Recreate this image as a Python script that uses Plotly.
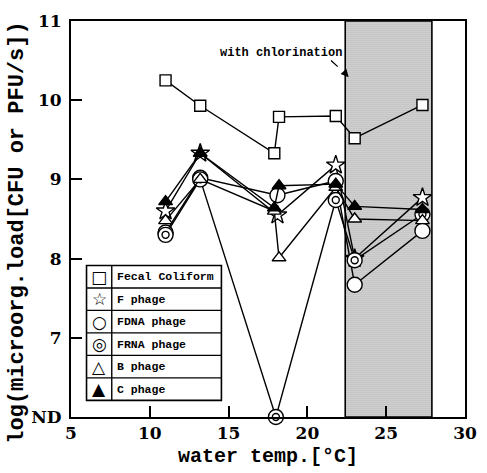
import plotly.graph_objects as go

# ---------------- data ----------------
ND = 6.0  # "not detected" plotted on the bottom axis line

fc_x = [11.0, 13.2, 17.9, 18.2, 21.8, 23.0, 27.3]
fc_y = [10.25, 9.93, 9.33, 9.79, 9.80, 9.52, 9.94]

f_x = [11.0, 13.2, 18.1, 21.8, 23.0, 27.3]
f_y = [8.60, 9.33, 8.55, 9.18, 8.00, 8.77]

fdna_x = [11.0, 13.2, 18.1, 21.8, 23.0, 27.3]
fdna_y = [8.33, 9.02, 8.80, 8.98, 7.67, 8.35]

frna_x = [11.0, 13.2, 18.0, 21.8, 23.0, 27.3]
frna_y = [8.30, 9.00, ND, 8.74, 7.98, 8.56]

b_x = [11.0, 13.2, 17.9, 18.2, 21.8, 23.0, 27.3]
b_y = [8.48, 9.00, 8.60, 8.01, 8.90, 8.50, 8.48]

c_x = [11.0, 13.2, 17.9, 18.2, 21.8, 23.0, 27.3]
c_y = [8.72, 9.33, 8.64, 8.92, 8.94, 8.66, 8.62]

chlor_start, chlor_end = 22.4, 27.9

x_ticks = [5, 10, 15, 20, 25, 30]
x_ticktext = ["5", "10", "15", "20", "25", "30"]
y_ticks = [6, 7, 8, 9, 10, 11]
y_ticktext = ["ND", "7", "8", "9", "10", "11"]

legend_names = ["Fecal Coliform", "F phage", "FDNA phage", "FRNA phage", "B phage", "C phage"]
legend_glyphs = ["□", "☆", "○", "◎", "△", "▲"]

# ---------------- figure ----------------
W, H = 487, 473
ML, MR, MT, MB = 71, 10, 21, 47
PW, PH = W - ML - MR, H - MT - MB

fig = go.Figure()

# chlorination period (shaded)
fig.add_trace(go.Scatter(
    x=[chlor_start, chlor_end, chlor_end, chlor_start, chlor_start],
    y=[y_ticks[0], y_ticks[0], y_ticks[-1], y_ticks[-1], y_ticks[0]],
    mode="lines", fill="toself", fillcolor="rgba(0,0,0,0)",
    fillpattern=dict(shape=".", size=2, solidity=0.55, fgcolor="#444", bgcolor="#f6f6f6"),
    line=dict(color="black", width=1.6), showlegend=False, hoverinfo="skip"))

LW = 1.4
def series(x, y, symbol, size, fill="white", name=None):
    fig.add_trace(go.Scatter(
        x=x, y=y, mode="lines+markers", name=name, showlegend=False,
        line=dict(color="black", width=LW),
        marker=dict(symbol=symbol, size=size, color=fill, line=dict(color="black", width=1.4)),
        cliponaxis=False))

series(fc_x, fc_y, "square", 11, name="Fecal Coliform")
series(f_x, f_y, "star", 14, name="F phage")
series(fdna_x, fdna_y, "circle", 15, name="FDNA phage")
series(frna_x, frna_y, "circle", 15, name="FRNA phage")
fig.add_trace(go.Scatter(
    x=frna_x, y=frna_y, mode="markers", showlegend=False, cliponaxis=False,
    marker=dict(symbol="circle", size=7, color="white", line=dict(color="black", width=1.4))))
series(b_x, b_y, "triangle-up", 12, name="B phage")
series(c_x, c_y, "triangle-up", 12, fill="black", name="C phage")

# ---------------- hand-drawn boxed legend ----------------
def px2paper(px, py):
    return (px - ML) / PW, (MT + PH - py) / PH

lx0, lx1, ldiv = 87, 226, 113
ly0, row_h = 271, 23
nrows = len(legend_names)
shapes = []
a, b = px2paper(lx0, ly0)
c, d = px2paper(lx1, ly0 + row_h * nrows)
shapes.append(dict(type="rect", xref="paper", yref="paper", x0=a, x1=c, y0=d, y1=b,
                   line=dict(color="black", width=1.6), fillcolor="white", layer="above"))
dv, _ = px2paper(ldiv, ly0)
shapes.append(dict(type="line", xref="paper", yref="paper", x0=dv, x1=dv, y0=d, y1=b,
                   line=dict(color="black", width=1.4), layer="above"))
annotations = []
for i in range(nrows):
    if i > 0:
        _, yy = px2paper(0, ly0 + row_h * i)
        shapes.append(dict(type="line", xref="paper", yref="paper", x0=a, x1=c, y0=yy, y1=yy,
                           line=dict(color="black", width=1.4), layer="above"))
    gx, gy = px2paper((lx0 + ldiv) / 2, ly0 + row_h * (i + 0.5))
    annotations.append(dict(x=gx, y=gy, xref="paper", yref="paper", text=legend_glyphs[i],
                            showarrow=False, xanchor="center", yanchor="middle",
                            font=dict(family="DejaVu Sans", size=17, color="black")))
    tx, _ = px2paper(ldiv + 3, 0)
    annotations.append(dict(x=tx, y=gy, xref="paper", yref="paper",
                            text="<b>" + legend_names[i] + "</b>",
                            showarrow=False, xanchor="left", yanchor="middle",
                            font=dict(family="Liberation Mono", size=11.5, color="black")))

# chlorination label and dashed arrow
annotations.append(dict(x=18.3, y=10.6, xref="x", yref="y", text="<b>with chlorination</b>",
                        showarrow=False, font=dict(family="Liberation Mono", size=12, color="black")))
shapes.append(dict(type="line", xref="x", yref="y", x0=21.5, y0=10.5, x1=22.45, y1=10.33,
                   line=dict(color="black", width=1.3, dash="dash")))
annotations.append(dict(x=22.62, y=10.29, xref="x", yref="y", ax=22.3, ay=10.36,
                        axref="x", ayref="y", text="", showarrow=True, arrowhead=2,
                        arrowsize=1.2, arrowwidth=1.3, arrowcolor="black"))

# y title
ytx, yty = px2paper(16, 238)
annotations.append(dict(x=ytx, y=yty, xref="paper", yref="paper",
                        text="<b>log(microorg.load[CFU or PFU/s])</b>", textangle=-90,
                        showarrow=False, xanchor="center", yanchor="middle",
                        font=dict(family="Liberation Mono", size=22, color="black")))

bold = lambda s: ["<b>" + t + "</b>" for t in s]

fig.update_layout(
    width=W, height=H, margin=dict(l=ML, r=MR, t=MT, b=MB),
    paper_bgcolor="white", plot_bgcolor="white",
    shapes=shapes, annotations=annotations, showlegend=False,
    xaxis=dict(range=[5, 30], tickvals=x_ticks, ticktext=bold(x_ticktext), ticks="inside",
               ticklen=11, tickwidth=1.5,
               tickcolor="black", showline=True, linecolor="black", linewidth=2, mirror=True,
               showgrid=False, zeroline=False,
               tickfont=dict(family="DejaVu Serif", size=17, color="black"),
               title=dict(text="<b>water temp.[°C]</b>", standoff=6,
                          font=dict(family="Liberation Mono", size=20, color="black"))),
    yaxis=dict(range=[6, 11], tickvals=y_ticks, ticktext=bold(y_ticktext), ticks="inside",
               ticklen=11, tickwidth=1.5, tickcolor="black", showline=True, linecolor="black",
               linewidth=2, mirror=True, showgrid=False, zeroline=False, ticklabelstandoff=4,
               tickfont=dict(family="DejaVu Serif", size=17, color="black")),
)

fig.write_html("out.html")
